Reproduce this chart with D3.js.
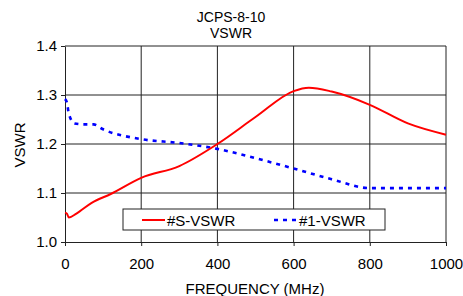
<!DOCTYPE html>
<html>
<head>
<meta charset="utf-8">
<script src="https://cdn.jsdelivr.net/npm/d3@7"></script>
<style>
  body { margin: 0; background: #fff; }
  svg { display: block; font-family: "Liberation Sans", Arial, sans-serif; }
</style>
</head>
<body>
<div id="chart"></div>
<script>
// Series
const sFreq = [0, 5, 10, 30, 70, 120, 200, 300, 400, 500, 600, 640, 700, 800, 900, 1000];
const sVswr = [1.060, 1.058, 1.050, 1.058, 1.080, 1.098, 1.131, 1.155, 1.200, 1.255, 1.308, 1.315, 1.307, 1.280, 1.242, 1.219];

const oneFreq = [0, 5, 10, 25, 50, 75, 100, 200, 300, 400, 500, 600, 700, 800, 900, 1000];
const oneVswr = [1.292, 1.285, 1.262, 1.242, 1.240, 1.240, 1.230, 1.210, 1.202, 1.190, 1.171, 1.150, 1.128, 1.110, 1.110, 1.110];

const xTicks = [0, 200, 400, 600, 800, 1000];
const yTicks = [1.0, 1.1, 1.2, 1.3, 1.4];

const W = 463, H = 296;
const margin = { top: 46, right: 17, bottom: 54, left: 65 };
const width = W - margin.left - margin.right;
const height = H - margin.top - margin.bottom;

const svg = d3.select('#chart').append('svg')
  .attr('width', W)
  .attr('height', H);

// Titles
svg.append('text')
  .attr('x', 231).attr('y', 22)
  .attr('text-anchor', 'middle')
  .attr('font-size', '14px')
  .text('JCPS-8-10');
svg.append('text')
  .attr('x', 231).attr('y', 38)
  .attr('text-anchor', 'middle')
  .attr('font-size', '14px')
  .text('VSWR');

const g = svg.append('g')
  .attr('transform', `translate(${margin.left},${margin.top})`);

const x = d3.scaleLinear().domain([0, 1000]).range([0, width]);
const y = d3.scaleLinear().domain([1.0, 1.4]).range([height, 0]);

// Grid (including top and right borders)
g.append('g').selectAll('line')
  .data(xTicks.slice(1))
  .join('line')
  .attr('x1', d => x(d)).attr('x2', d => x(d))
  .attr('y1', 0).attr('y2', height)
  .attr('stroke', '#222').attr('stroke-width', 1);
g.append('g').selectAll('line')
  .data(yTicks.slice(1))
  .join('line')
  .attr('x1', 0).attr('x2', width)
  .attr('y1', d => y(d)).attr('y2', d => y(d))
  .attr('stroke', '#222').attr('stroke-width', 1);

// Axes
const xAxis = g.append('g')
  .attr('transform', `translate(0,${height})`)
  .call(d3.axisBottom(x).tickValues(xTicks).tickFormat(d3.format('d')).tickSize(4).tickSizeOuter(0));
const yAxis = g.append('g')
  .call(d3.axisLeft(y).tickValues(yTicks).tickFormat(d3.format('.1f')).tickSize(4).tickSizeOuter(0));

[xAxis, yAxis].forEach(a => {
  a.selectAll('path, line').attr('stroke', '#222');
  a.selectAll('text')
    .attr('font-size', '15px')
    .attr('fill', '#000')
    .attr('font-family', '"Liberation Sans", Arial, sans-serif');
});
xAxis.selectAll('text').attr('y', 16);
yAxis.selectAll('text').attr('x', -8);

// Axis labels
svg.append('text')
  .attr('x', 255).attr('y', 294)
  .attr('text-anchor', 'middle')
  .attr('font-size', '15px')
  .text('FREQUENCY (MHz)');
svg.append('text')
  .attr('transform', 'rotate(-90)')
  .attr('x', -145).attr('y', 25)
  .attr('text-anchor', 'middle')
  .attr('font-size', '15px')
  .text('VSWR');

// Lines
const line = d3.line()
  .x(d => x(d[0]))
  .y(d => y(d[1]))
  .curve(d3.curveMonotoneX);

g.append('path')
  .datum(d3.zip(oneFreq, oneVswr))
  .attr('d', line)
  .attr('fill', 'none')
  .attr('stroke', '#0000ff')
  .attr('stroke-width', 2.6)
  .attr('stroke-dasharray', '4,5');

g.append('path')
  .datum(d3.zip(sFreq, sVswr))
  .attr('d', line)
  .attr('fill', 'none')
  .attr('stroke', '#ff0000')
  .attr('stroke-width', 2);

// Legend
const legend = svg.append('g').attr('transform', 'translate(123,209)');
legend.append('rect')
  .attr('width', 262).attr('height', 21)
  .attr('fill', '#fff')
  .attr('stroke', '#222').attr('stroke-width', 1);
legend.append('line')
  .attr('x1', 19).attr('x2', 42).attr('y1', 11).attr('y2', 11)
  .attr('stroke', '#ff0000').attr('stroke-width', 2);
legend.append('text')
  .attr('x', 44).attr('y', 16.5)
  .attr('font-size', '15px')
  .text('#S-VSWR');
legend.append('line')
  .attr('x1', 151).attr('x2', 176).attr('y1', 11).attr('y2', 11)
  .attr('stroke', '#0000ff').attr('stroke-width', 2.6)
  .attr('stroke-dasharray', '4,5');
legend.append('text')
  .attr('x', 176).attr('y', 16.5)
  .attr('font-size', '15px')
  .text('#1-VSWR');
</script>
</body>
</html>
